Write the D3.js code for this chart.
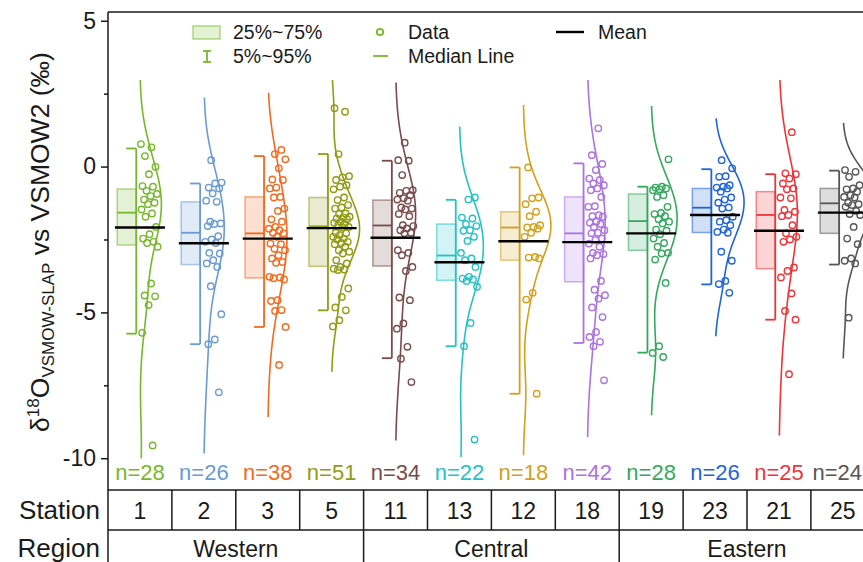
<!DOCTYPE html>
<html>
<head>
<meta charset="utf-8">
<script src="https://cdn.jsdelivr.net/npm/d3@7"></script>
<style>
  html, body { margin: 0; padding: 0; background: #fff; }
  svg { display: block; font-family: "Liberation Sans", Arial, Helvetica, sans-serif; }
</style>
</head>
<body>
<svg id="chart" width="863" height="562"></svg>
<script>
// ---- data ----
const stations = ["1", "2", "3", "5", "11", "13", "12", "18", "19", "23", "21", "25"];
const stationRegion = ["Western", "Western", "Western", "Western",
                       "Central", "Central", "Central", "Central",
                       "Eastern", "Eastern", "Eastern", "Eastern"];
const regionNames = ["Western", "Central", "Eastern"];
const colors = ["#76b82a", "#6a9bd3", "#f26a1e", "#929b14", "#7a4b4b", "#22c3c6",
                "#d4a01c", "#ab72e0", "#34a85d", "#1f64d8", "#ee3438", "#565656"];

// δ18O values (‰) per station
const d18O = [
  [0.77, 0.66, 0.36, -0.01, -0.26, -0.67, -0.69, -0.83, -0.94, -1.01, -1.13, -1.24, -1.29, -1.47,
   -1.61, -1.72, -2.07, -2.32, -2.47, -2.58, -2.62, -2.75, -4.01, -4.42, -4.45, -4.75, -5.70, -9.56],
  [0.22, -0.55, -0.58, -0.72, -0.75, -0.92, -1.17, -1.21, -1.89, -1.95, -1.97, -2.04, -2.39,
   -2.50, -2.58, -2.62, -2.96, -2.98, -3.21, -3.32, -3.44, -4.10, -5.06, -5.93, -6.09, -7.74],
  [0.57, 0.43, 0.25, -0.06, -0.44, -0.46, -0.72, -0.75, -1.04, -1.06, -1.44, -1.52, -1.81, -1.89,
   -2.07, -2.13, -2.18, -2.27, -2.29, -2.41, -2.64, -2.66, -2.82, -2.87, -3.04, -3.15, -3.27, -3.30,
   -3.78, -3.80, -3.83, -3.87, -4.58, -4.61, -4.92, -4.95, -5.50, -6.80],
  [2.00, 1.88, 0.43, -0.33, -0.37, -0.46, -0.64, -0.69, -0.78, -1.06, -1.15, -1.32, -1.40, -1.44,
   -1.61, -1.63, -1.72, -1.74, -1.78, -1.81, -1.89, -1.93, -1.97, -2.01, -2.07, -2.09, -2.27, -2.29,
   -2.35, -2.41, -2.47, -2.50, -2.58, -2.62, -2.66, -2.75, -2.87, -2.92, -2.98, -3.21, -3.32, -3.44,
   -3.50, -3.53, -3.55, -4.18, -4.47, -4.83, -4.93, -5.27, -5.48],
  [0.82, 0.22, 0.20, -0.29, -0.81, -0.83, -0.90, -0.98, -1.09, -1.13, -1.17, -1.40, -1.44, -1.47,
   -1.63, -1.70, -2.01, -2.04, -2.12, -2.18, -2.27, -2.29, -2.87, -2.96, -3.04, -3.44, -3.58, -4.49,
   -4.58, -5.38, -5.56, -6.18, -6.59, -7.39],
  [-1.06, -1.13, -1.75, -1.78, -1.97, -2.04, -2.18, -2.20, -2.41, -2.55, -2.96, -3.15, -3.21, -3.44,
   -3.78, -3.84, -3.87, -3.92, -4.12, -5.36, -6.16, -9.36],
  [-0.03, -1.06, -1.09, -1.29, -1.55, -1.70, -2.01, -2.07, -2.09, -2.13, -2.27, -2.41, -3.10, -3.12,
   -3.15, -4.33, -4.56, -7.79],
  [1.31, 0.39, 0.09, -0.12, -0.41, -0.46, -0.58, -0.64, -0.75, -0.81, -1.04, -1.36, -1.38, -1.67,
   -1.70, -1.72, -1.89, -1.93, -1.97, -2.07, -2.18, -2.27, -2.29, -2.47, -2.52, -2.64, -2.75, -2.96,
   -3.00, -3.04, -3.15, -3.92, -4.22, -4.41, -4.53, -4.83, -5.16, -5.67, -5.84, -6.01, -6.16, -7.33],
  [0.25, -0.69, -0.72, -0.75, -0.78, -0.81, -0.98, -1.04, -1.38, -1.59, -1.63, -1.70, -1.81, -1.89,
   -1.95, -2.16, -2.20, -2.32, -2.47, -2.62, -2.75, -2.96, -2.98, -3.19, -3.99, -6.16, -6.39, -6.53],
  [0.22, -0.06, -0.33, -0.35, -0.64, -0.69, -0.72, -0.75, -0.86, -1.06, -1.13, -1.24, -1.40, -1.44,
   -1.72, -1.84, -1.89, -2.01, -2.16, -2.24, -2.27, -2.92, -3.23, -3.92, -4.03, -4.33],
  [1.18, -0.23, -0.26, -0.41, -0.58, -0.75, -0.78, -1.06, -1.09, -1.49, -1.55, -1.66, -1.70, -2.01,
   -2.29, -2.41, -2.50, -2.58, -3.46, -3.58, -3.80, -4.35, -4.95, -5.25, -7.12],
  [-0.12, -0.18, -0.35, -0.64, -0.75, -0.78, -0.86, -0.98, -1.04, -1.06, -1.24, -1.29, -1.32, -1.38,
   -1.52, -1.63, -1.66, -2.07, -2.47, -2.66, -3.15, -3.23, -3.32, -5.18]
];

// box statistics per station
const q25 = [-2.69, -3.36, -3.82, -3.42, -3.41, -3.90, -3.21, -3.95, -2.87, -2.26, -3.50, -2.29];
const q75 = [-0.77, -1.21, -1.04, -1.06, -1.15, -1.97, -1.55, -1.04, -0.94, -0.75, -0.86, -0.75];
const medians = [-1.58, -2.27, -2.29, -2.05, -2.02, -3.05, -2.09, -2.29, -1.87, -1.41, -1.66, -1.26];
const p05 = [-5.73, -6.09, -5.50, -4.93, -6.57, -6.16, -7.79, -6.05, -6.38, -4.04, -5.25, -3.36];
const p95 = [0.62, -0.58, 0.36, 0.43, 0.20, -1.14, -0.03, 0.11, -0.69, -0.09, -0.26, -0.14];
const means = [-2.09, -2.63, -2.47, -2.11, -2.44, -3.28, -2.56, -2.59, -2.29, -1.66, -2.20, -1.58];
// extent of each density curve
const kdeTop = [2.97, 2.37, 2.53, 2.97, 2.88, 1.37, 2.11, 2.97, 2.08, 1.65, 2.97, 1.50];
const kdeBottom = [-10.0, -9.84, -8.59, -7.04, -9.39, -9.96, -9.90, -9.27, -8.53, -5.82, -9.22, -6.58];

const yTicks = [-10, -5, 0, 5];
const yMinorTicks = [-7.5, -2.5, 2.5];

// ---- layout ----
const svg = d3.select("#chart");
const W = 863, H = 562;
const plotLeft = 108, plotTop = 12, plotBottom = 490, rowSplit = 530;
const colW = 63.9;

const x = d3.scaleBand().domain(stations).range([plotLeft, plotLeft + colW * stations.length]).padding(0);
const y = d3.scaleLinear().domain([-11.09, 5.30]).range([plotBottom, plotTop]);

const ink = "#1a1a1a";

// frame
svg.append("line").attr("x1", plotLeft).attr("x2", W).attr("y1", plotTop).attr("y2", plotTop)
  .attr("stroke", ink).attr("stroke-width", 1.5);
svg.append("line").attr("x1", plotLeft).attr("x2", plotLeft).attr("y1", plotTop).attr("y2", H)
  .attr("stroke", ink).attr("stroke-width", 1.5);

// y axis
const yAxisG = svg.append("g").attr("transform", `translate(${plotLeft},0)`)
  .call(d3.axisLeft(y).tickValues(yTicks).tickSize(7).tickPadding(5).tickFormat(d => String(d)));
yAxisG.select(".domain").remove();
yAxisG.selectAll(".tick line").attr("stroke", ink).attr("stroke-width", 1.5);
yAxisG.selectAll(".tick text").attr("fill", ink).style("font-size", "23px")
  .style("font-family", "'Liberation Sans', Arial, sans-serif");
const yMinorG = svg.append("g").attr("transform", `translate(${plotLeft},0)`)
  .call(d3.axisLeft(y).tickValues(yMinorTicks).tickSize(4).tickFormat(""));
yMinorG.select(".domain").remove();
yMinorG.selectAll(".tick line").attr("stroke", ink).attr("stroke-width", 1.5);

// y axis title
const title = svg.append("text")
  .attr("transform", "translate(49,242) rotate(-90)")
  .attr("text-anchor", "middle")
  .attr("fill", ink)
  .style("font-size", "26.5px");
title.append("tspan").text("δ");
title.append("tspan").attr("dy", -10).style("font-size", "17px").text("18");
title.append("tspan").attr("dy", 10).text("O");
title.append("tspan").attr("dy", 5).style("font-size", "17px").text("VSMOW-SLAP");
title.append("tspan").attr("dy", -5).text(" vs VSMOW2 (‰)");

// ---- groups ----
const gauss = u => Math.exp(-0.5 * u * u) / Math.sqrt(2 * Math.PI);
const densityScale = 102;   // px per unit of probability density

stations.forEach((s, i) => {
  const vals = d18O[i];
  const col = colors[i];
  const cx = x(s) + x.bandwidth() / 2;
  const bx0 = cx - 22.7, bx1 = cx - 3.7;
  const g = svg.append("g");

  // half violin (gaussian kernel density, widened Silverman bandwidth)
  const sorted = vals.slice().sort(d3.ascending);
  const sd = d3.deviation(vals);
  const iqr = d3.quantile(sorted, 0.75) - d3.quantile(sorted, 0.25);
  const h = 1.6 * 0.9 * Math.min(sd, iqr / 1.34) * Math.pow(vals.length, -0.2);
  const grid = d3.range(161).map(k => kdeTop[i] + (kdeBottom[i] - kdeTop[i]) * k / 160);
  const dens = grid.map(v => [v, d3.mean(vals, d => gauss((v - d) / h)) / h]);
  g.append("path")
    .attr("d", d3.line().x(d => cx + densityScale * d[1]).y(d => y(d[0])).curve(d3.curveBasis)(dens))
    .attr("fill", "none").attr("stroke", col).attr("stroke-width", 1.6);

  // 25%~75% box
  g.append("rect")
    .attr("x", bx0).attr("width", bx1 - bx0)
    .attr("y", y(q75[i])).attr("height", y(q25[i]) - y(q75[i]))
    .attr("fill", col).attr("fill-opacity", 0.2)
    .attr("stroke", col).attr("stroke-opacity", 0.55).attr("stroke-width", 1.5);

  // median
  g.append("line").attr("x1", bx0).attr("x2", bx1)
    .attr("y1", y(medians[i])).attr("y2", y(medians[i]))
    .attr("stroke", col).attr("stroke-width", 1.8);

  // 5%~95% whisker
  g.append("line").attr("x1", bx1).attr("x2", bx1)
    .attr("y1", y(p95[i])).attr("y2", y(p05[i]))
    .attr("stroke", col).attr("stroke-width", 1.8);
  [p95[i], p05[i]].forEach(v => {
    g.append("line").attr("x1", bx1 - 10).attr("x2", bx1)
      .attr("y1", y(v)).attr("y2", y(v))
      .attr("stroke", col).attr("stroke-width", 1.8);
  });

  // data points
  g.selectAll("circle").data(vals).join("circle")
    .attr("cx", (d, k) => cx + 1 + ((k * 0.6180339887 + i * 0.37) % 1) * 17)
    .attr("cy", d => y(d))
    .attr("r", 3.2)
    .attr("fill", "none").attr("stroke", col).attr("stroke-width", 1.4);

  // mean
  g.append("line").attr("x1", cx - 25).attr("x2", cx + 25)
    .attr("y1", y(means[i])).attr("y2", y(means[i]))
    .attr("stroke", "#000").attr("stroke-width", 2.4);

  // sample size (last column sits against the right edge)
  const last = i === stations.length - 1;
  g.append("text").attr("x", last ? W - 1 : cx).attr("y", 480)
    .attr("text-anchor", last ? "end" : "middle").attr("fill", col)
    .style("font-size", "22px").text("n=" + vals.length);
});

// ---- legend ----
const lc = colors[0];
const leg = svg.append("g").style("font-size", "19.5px").attr("fill", ink);
leg.append("rect").attr("x", 193).attr("y", 26).attr("width", 27).attr("height", 13)
  .attr("fill", lc).attr("fill-opacity", 0.2).attr("stroke", lc).attr("stroke-opacity", 0.55).attr("stroke-width", 1.5);
leg.append("text").attr("x", 233).attr("y", 39).text("25%~75%");
leg.append("line").attr("x1", 207).attr("x2", 207).attr("y1", 51).attr("y2", 62).attr("stroke", lc).attr("stroke-width", 1.8);
leg.append("line").attr("x1", 203).attr("x2", 211).attr("y1", 51).attr("y2", 51).attr("stroke", lc).attr("stroke-width", 1.8);
leg.append("line").attr("x1", 203).attr("x2", 211).attr("y1", 62).attr("y2", 62).attr("stroke", lc).attr("stroke-width", 1.8);
leg.append("text").attr("x", 233).attr("y", 63).text("5%~95%");
leg.append("circle").attr("cx", 380).attr("cy", 32).attr("r", 3.2)
  .attr("fill", "none").attr("stroke", lc).attr("stroke-width", 1.8);
leg.append("text").attr("x", 408).attr("y", 39).text("Data");
leg.append("line").attr("x1", 373).attr("x2", 388).attr("y1", 56).attr("y2", 56).attr("stroke", lc).attr("stroke-width", 1.8);
leg.append("text").attr("x", 408).attr("y", 63).text("Median Line");
leg.append("line").attr("x1", 556).attr("x2", 584).attr("y1", 32).attr("y2", 32).attr("stroke", "#000").attr("stroke-width", 2.4);
leg.append("text").attr("x", 598).attr("y", 39).text("Mean");

// ---- station / region table ----
const tbl = svg.append("g");
[plotBottom, rowSplit].forEach(yy => {
  tbl.append("line").attr("x1", plotLeft).attr("x2", W).attr("y1", yy).attr("y2", yy)
    .attr("stroke", ink).attr("stroke-width", 1.5);
});
stations.forEach((s, i) => {
  if (i > 0) {
    tbl.append("line").attr("x1", x(s)).attr("x2", x(s)).attr("y1", plotBottom).attr("y2", rowSplit)
      .attr("stroke", ink).attr("stroke-width", 1.5);
  }
  tbl.append("text").attr("x", x(s) + x.bandwidth() / 2).attr("y", 519)
    .attr("text-anchor", "middle").attr("fill", ink).style("font-size", "23px").text(s);
});
regionNames.forEach((r, j) => {
  const members = stations.filter((s, i) => stationRegion[i] === r);
  const x0 = x(members[0]);
  const x1 = x(members[members.length - 1]) + x.bandwidth();
  if (j > 0) {
    tbl.append("line").attr("x1", x0).attr("x2", x0).attr("y1", rowSplit).attr("y2", H)
      .attr("stroke", ink).attr("stroke-width", 1.5);
  }
  tbl.append("text").attr("x", (x0 + x1) / 2).attr("y", 557)
    .attr("text-anchor", "middle").attr("fill", ink).style("font-size", "23px").text(r);
});
tbl.append("text").attr("x", 100).attr("y", 519).attr("text-anchor", "end")
  .attr("fill", ink).style("font-size", "26px").text("Station");
tbl.append("text").attr("x", 100).attr("y", 557).attr("text-anchor", "end")
  .attr("fill", ink).style("font-size", "26px").text("Region");
</script>
</body>
</html>
